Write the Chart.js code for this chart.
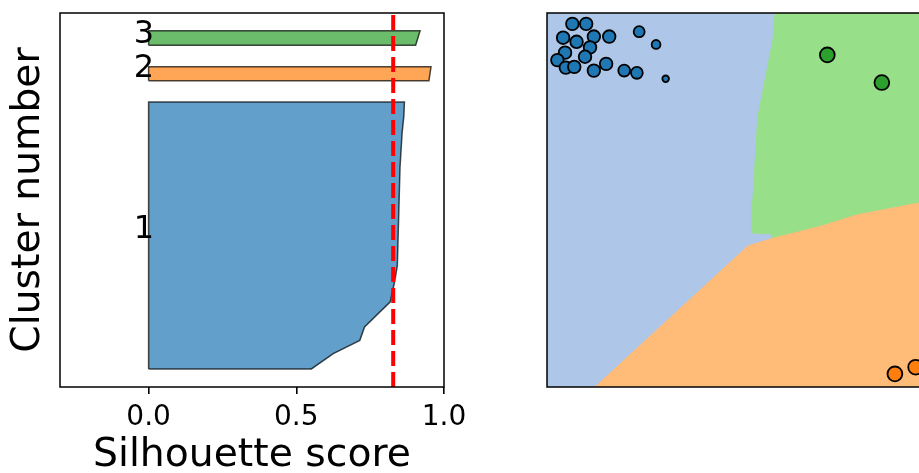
<!DOCTYPE html>
<html>
<head>
<meta charset="utf-8">
<title>Silhouette analysis</title>
<script src="https://cdn.jsdelivr.net/npm/chart.js@4.4.1/dist/chart.umd.min.js"></script>
<style>
    html, body { margin: 0; padding: 0; background: #fff; overflow: hidden; }
    #page { position: relative; width: 919px; height: 473px; overflow: hidden; }
    #silhouette { position: absolute; left: 0; top: 0; }
    #regions { position: absolute; left: 540px; top: 0; }
</style>
</head>
<body>
<div id="page">
    <canvas id="silhouette" width="500" height="500"></canvas>
    <canvas id="regions" width="400" height="400"></canvas>
</div>
<script>
    'use strict';

    // Silhouette plot data (sample position on y, sorted score on x)
    var clusterNames = ['1', '2', '3'];
    var c1Pos = [8.4, 15.5, 21.7, 27.9, 39.6, 48.5, 56.5, 102, 118, 126, 132.6];
    var c1Score = [0.551, 0.625, 0.715, 0.731, 0.818, 0.832, 0.842, 0.851, 0.858, 0.864, 0.866];
    var c2Pos = [142.5, 149];
    var c2Score = [0.949, 0.956];
    var c3Pos = [159, 165.7];
    var c3Score = [0.904, 0.919];
    var labelX = -0.05;
    var labelY = [69.3, 144.2, 160.0];
    var avgScore = 0.828;
    var xTicks = [0, 0.5, 1.0];

    // Decision regions (right panel)
    var greenRegionX = [5.94, 5.885, 5.49, 5.36, 5.34, 5.885, 5.86, 7.11, 8.07, 9.69, 10, 10];
    var greenRegionY = [10, 9.28, 7.22, 5.0, 4.12, 4.09, 3.97, 4.29, 4.60, 4.92, 4.97, 10];
    var orangeRegionX = [1.25, 5.23, 5.86, 7.11, 8.07, 9.69, 10, 10];
    var orangeRegionY = [0, 3.77, 3.97, 4.29, 4.60, 4.92, 4.97, 0];

    // Scatter points and their marker radius
    var blueX = [0.66, 1.02, 0.42, 0.77, 1.22, 1.62, 1.12, 0.47, 0.99, 0.27, 0.49, 0.71, 1.22, 1.54, 2.01, 2.34, 2.40, 2.84, 3.09];
    var blueY = [9.71, 9.71, 9.34, 9.23, 9.37, 9.37, 9.08, 8.94, 8.83, 8.74, 8.54, 8.56, 8.46, 8.64, 8.46, 8.40, 9.50, 9.16, 8.24];
    var blueR = [7.2, 7.2, 7.2, 7.2, 7.2, 7.2, 7.2, 7.2, 7.2, 7.2, 7.2, 7.2, 7.2, 7.2, 6.8, 6.8, 6.4, 5.3, 4.2];
    var greenX = [7.30, 8.72];
    var greenY = [8.88, 8.14];
    var orangeX = [9.06, 9.60];
    var orangeY = [0.35, 0.53];
    var bigR = 8.3;

    Chart.defaults.font.family = '"DejaVu Sans", sans-serif';
    Chart.defaults.color = '#000';

    /**
     * Axes frame (all four spines)
     */
    var framePlugin = {
        id: 'frame',
        afterDatasetsDraw: function(chart) {
            var a = chart.chartArea;
            var ctx = chart.ctx;
            ctx.save();
            ctx.strokeStyle = '#000';
            ctx.lineWidth = 1.5;
            ctx.strokeRect(a.left, a.top, a.right - a.left, a.bottom - a.top);
            ctx.restore();
        }
    };

    /**
     * Cluster number next to each silhouette
     */
    var clusterLabelPlugin = {
        id: 'clusterLabels',
        afterDatasetsDraw: function(chart) {
            var ctx = chart.ctx;
            var xs = chart.scales.x;
            var ys = chart.scales.y;
            ctx.save();
            ctx.font = '32px "DejaVu Sans"';
            ctx.fillStyle = '#000';
            ctx.textAlign = 'left';
            ctx.textBaseline = 'alphabetic';
            clusterNames.forEach(function(name, i) {
                ctx.fillText(name, xs.getPixelForValue(labelX), ys.getPixelForValue(labelY[i]));
            });
            ctx.restore();
        }
    };

    function clusterPolygon(pos, score) {
        var pts = [{x: 0, y: pos[0]}];
        for (var i = 0; i < pos.length; i++) {
            pts.push({x: score[i], y: pos[i]});
        }
        pts.push({x: 0, y: pos[pos.length - 1]});
        pts.push({x: 0, y: pos[0]});
        return pts;
    }

    function zipPoints(xs, ys, close) {
        var pts = xs.map(function(x, i) { return {x: x, y: ys[i]}; });
        if (close) pts.push({x: xs[0], y: ys[0]});
        return pts;
    }

    function clusterDataset(pos, score, color) {
        return {
            data: clusterPolygon(pos, score),
            fill: 'shape',
            backgroundColor: color,
            borderColor: 'rgba(0, 0, 0, 0.7)',
            borderWidth: 1.5,
            pointRadius: 0,
            tension: 0,
            order: 1
        };
    }

    function regionDataset(xs, ys, color, order) {
        return {
            data: zipPoints(xs, ys, true),
            fill: 'shape',
            backgroundColor: color,
            borderColor: color,
            borderWidth: 1,
            pointRadius: 0,
            tension: 0,
            order: order
        };
    }

    function pointDataset(xs, ys, radii, color) {
        return {
            type: 'scatter',
            data: zipPoints(xs, ys, false),
            pointBackgroundColor: color,
            pointBorderColor: '#000',
            pointBorderWidth: 1.8,
            pointRadius: radii.map(function(r) { return r - 0.9; }),
            order: 0
        };
    }

    // Left panel: silhouette plot
    new Chart(document.getElementById('silhouette'), {
        type: 'line',
        data: {
            datasets: [
                {
                    data: [{x: avgScore, y: 0}, {x: avgScore, y: 174}],
                    borderColor: '#ff0000',
                    borderWidth: 4,
                    borderDash: [15, 6],
                    pointRadius: 0,
                    fill: false,
                    order: 0
                },
                clusterDataset(c1Pos, c1Score, 'rgb(98, 160, 203)'),
                clusterDataset(c2Pos, c2Score, 'rgb(255, 165, 86)'),
                clusterDataset(c3Pos, c3Score, 'rgb(107, 189, 107)')
            ]
        },
        options: {
            responsive: false,
            animation: false,
            layout: { autoPadding: false, padding: { top: 13, right: 56, left: 0, bottom: 0 } },
            plugins: { legend: { display: false }, tooltip: { enabled: false } },
            scales: {
                x: {
                    type: 'linear',
                    min: -0.3,
                    max: 1.0,
                    afterFit: function(scale) { scale.height = 113; },
                    afterBuildTicks: function(scale) {
                        scale.ticks = xTicks.map(function(v) { return {value: v}; });
                    },
                    ticks: {
                        font: { size: 28 },
                        color: '#000',
                        padding: 7,
                        maxRotation: 0,
                        autoSkip: false,
                        callback: function(v) { return Number(v).toFixed(1); }
                    },
                    grid: { drawOnChartArea: false, drawTicks: true, tickLength: 7, color: '#000', lineWidth: 1.6 },
                    border: { display: false },
                    title: {
                        display: true,
                        text: 'Silhouette score',
                        font: { size: 39.3, lineHeight: 1.2 },
                        color: '#000',
                        padding: { top: 0, bottom: 20.5 }
                    }
                },
                y: {
                    type: 'linear',
                    min: 0,
                    max: 174,
                    afterFit: function(scale) { scale.width = 60; },
                    ticks: { display: false },
                    grid: { display: false },
                    border: { display: false },
                    title: {
                        display: true,
                        text: 'Cluster number',
                        font: { size: 39.3, lineHeight: 1.2 },
                        color: '#000',
                        padding: { top: 5, bottom: 0 }
                    }
                }
            }
        },
        plugins: [framePlugin, clusterLabelPlugin]
    });

    // Right panel: cluster regions with samples
    new Chart(document.getElementById('regions'), {
        type: 'line',
        data: {
            datasets: [
                regionDataset([0, 10, 10, 0], [0, 0, 10, 10], '#aec7e8', 5),
                regionDataset(greenRegionX, greenRegionY, '#98df8a', 4),
                regionDataset(orangeRegionX, orangeRegionY, '#ffbb78', 3),
                pointDataset(blueX, blueY, blueR, '#1f77b4'),
                pointDataset(greenX, greenY, greenX.map(function() { return bigR; }), '#2ca02c'),
                pointDataset(orangeX, orangeY, orangeX.map(function() { return bigR; }), '#ff7f0e')
            ]
        },
        options: {
            responsive: false,
            animation: false,
            layout: { autoPadding: false, padding: { left: 7, top: 13, right: 9, bottom: 13 } },
            plugins: { legend: { display: false }, tooltip: { enabled: false } },
            scales: {
                x: { type: 'linear', min: 0, max: 10, display: false },
                y: { type: 'linear', min: 0, max: 10, display: false }
            }
        },
        plugins: [framePlugin]
    });
</script>
</body>
</html>
